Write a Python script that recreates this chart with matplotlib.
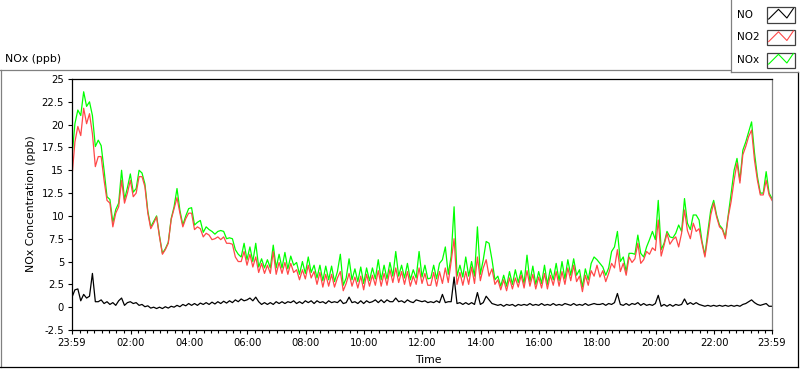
import numpy as np
import matplotlib
matplotlib.use('Agg')
import matplotlib.pyplot as plt
from matplotlib.lines import Line2D
from matplotlib.patches import Rectangle
from matplotlib.ticker import FixedLocator, FormatStrFormatter

plt.rcParams['font.family'] = ['DejaVu Sans']

# one sample every 6 minutes, first sample at 23:59
step_h = 0.1
start_h = -1 / 60

no2 = [
    # 23:59 - 05:41
    14.3, 18.1, 19.8, 18.8, 21.8, 20.1, 21.2, 19.0, 15.4, 16.5,
    16.5, 13.9, 11.7, 11.4, 8.8, 10.3, 11.0, 13.9, 11.4, 12.5,
    13.9, 12.1, 12.5, 14.3, 14.3, 13.2, 10.3, 8.6, 9.2, 9.9,
    7.7, 5.8, 6.3, 7.0, 9.6, 10.8, 12.0, 10.3, 8.8, 9.7,
    10.3, 10.3, 8.5, 8.8, 8.6, 7.7, 8.1, 7.9, 7.4, 7.5,
    7.7, 7.4, 7.7, 7.0, 7.0, 6.9, 5.5, 5.0,
    # 05:47 - 12:11
    5.0, 6.1, 4.6, 5.8, 4.4, 5.5, 3.8, 4.8, 3.7, 4.6,
    3.7, 6.1, 3.6, 4.9, 3.7, 4.9, 3.6, 4.8, 3.8, 4.1,
    3.0, 4.1, 3.1, 4.6, 3.2, 3.9, 2.5, 3.8, 2.2, 3.6,
    2.3, 3.6, 2.2, 3.2, 3.9, 1.8, 2.6, 3.7, 2.3, 3.3,
    2.1, 3.4, 1.9, 3.6, 2.3, 3.5, 2.4, 4.0, 2.3, 3.7,
    2.4, 4.1, 2.7, 4.3, 2.7, 3.9, 2.5, 3.9, 2.3, 3.4,
    2.5, 4.3, 2.6, 3.7, 2.4,
    # 12:17 - 17:59
    2.4, 3.8, 2.3, 3.9, 2.6, 4.3, 2.7, 5.0, 7.5, 2.5,
    3.8, 2.4, 3.9, 2.5, 4.4, 2.6, 5.5, 2.9, 4.3, 5.2,
    3.4, 4.2, 2.5, 3.0, 1.9, 3.0, 1.8, 3.2, 2.0, 3.2,
    2.2, 3.5, 2.1, 4.0, 2.3, 3.6, 2.0, 3.3, 2.1, 3.7,
    2.0, 3.5, 2.4, 3.9, 2.3, 3.9, 2.5, 4.3, 2.9, 4.6,
    2.8, 3.4, 1.7, 3.5, 2.4, 4.0, 3.4, 4.6,
    # 18:05 - 23:59
    3.3, 4.0, 2.8, 3.7, 4.8, 4.3, 6.3, 3.9, 4.8, 3.5,
    5.5, 4.9, 5.3, 7.0, 4.8, 5.2, 6.1, 5.8, 6.5, 6.2,
    9.55, 5.6, 6.8, 8.1, 6.9, 7.4, 7.7, 6.6, 8.1, 10.65,
    8.4, 7.5, 9.2, 8.3, 8.6, 7.0, 5.5, 7.7, 10.1, 11.4,
    9.9, 8.8, 8.5, 7.5, 9.9, 11.6, 13.9, 15.8, 13.6, 16.7,
    17.6, 18.7, 19.4, 16.1, 13.9, 12.3, 12.3, 13.9, 12.3, 11.7,
]

nox = [
    16.5, 20.1, 21.6, 21.0, 23.6, 22.0, 22.5, 21.0, 17.6, 18.3,
    17.7, 15.0, 12.1, 11.8, 9.3, 10.7, 11.4, 15.0, 11.8, 13.1,
    14.6, 12.6, 13.0, 15.0, 14.7, 13.5, 10.5, 8.8, 9.4, 10.0,
    7.8, 5.9, 6.4, 7.1, 9.7, 11.0, 13.0, 10.6, 9.0, 10.0,
    10.8, 10.9, 9.0, 9.3, 9.5, 8.2, 8.8, 8.5, 8.3, 8.0,
    8.3, 8.4, 8.3, 7.5, 7.6, 7.5, 6.3, 5.8,
    5.5, 7.0, 5.2, 6.6, 5.0, 7.0, 4.4, 5.3, 4.3, 5.2,
    4.3, 6.8, 4.3, 5.8, 4.3, 6.0, 4.2, 5.6, 4.6, 4.9,
    3.6, 5.0, 3.7, 5.5, 3.8, 4.6, 3.2, 4.6, 2.9, 4.5,
    3.0, 4.5, 2.8, 3.9, 5.8, 2.4, 3.2, 5.3, 3.0, 4.2,
    2.8, 4.4, 2.6, 4.3, 2.9, 4.3, 3.1, 5.2, 3.0, 4.6,
    3.1, 4.9, 3.4, 6.1, 3.4, 4.6, 3.2, 4.8, 3.0, 4.1,
    3.2, 6.1, 3.3, 4.6, 3.1,
    3.2, 4.6, 3.1, 4.8, 5.2, 6.6, 3.6, 5.6, 11.0, 3.4,
    4.6, 3.3, 5.5, 3.4, 5.0, 3.4, 8.8, 3.6, 5.2, 7.2,
    7.0, 5.2, 3.0, 3.4, 2.3, 3.5, 2.3, 3.9, 2.5, 4.1,
    2.7, 4.0, 2.6, 5.7, 2.8, 4.5, 2.5, 3.9, 2.6, 4.6,
    2.5, 4.2, 3.0, 4.8, 2.9, 5.0, 3.1, 5.2, 3.5, 5.3,
    3.5, 4.1, 2.2, 4.2, 3.0, 4.8, 5.5, 5.2,
    4.8, 4.4, 3.5, 4.3, 6.1, 6.6, 8.3, 5.0, 5.5, 3.9,
    5.9, 5.9, 5.8, 7.9, 5.9, 5.5, 6.6, 7.4, 8.3, 7.4,
    11.7, 6.3, 7.0, 8.3, 7.7, 7.6, 8.1, 9.0, 8.3, 11.9,
    9.2, 8.5, 10.1, 10.1, 9.55, 7.2, 5.7, 8.3, 10.65, 11.7,
    10.1, 9.0, 8.6, 7.7, 10.1, 12.5, 15.0, 16.3, 13.9, 17.2,
    18.1, 19.2, 20.3, 16.9, 14.3, 12.5, 12.5, 14.85, 12.5, 11.9,
]

no = [
    1.1, 1.9, 2.0, 0.7, 1.4, 1.0, 1.2, 3.7, 0.6, 0.6,
    0.8, 0.4, 0.6, 0.3, 0.5, 0.2, 0.7, 1.0, 0.2, 0.5,
    0.6, 0.4, 0.5, 0.2, 0.3, 0.05, 0.15, -0.1, 0.0, -0.15,
    0.0, -0.15, 0.05, -0.1, 0.1, 0.0, 0.2, 0.05, 0.3, 0.15,
    0.4, 0.2, 0.4, 0.2, 0.45, 0.3, 0.5, 0.3, 0.55, 0.35,
    0.6, 0.4, 0.65, 0.45, 0.7, 0.5, 0.8, 0.6,
    0.9, 0.7, 0.8, 1.0, 0.7, 1.1, 0.6, 0.3, 0.5, 0.3,
    0.5, 0.3, 0.6, 0.4, 0.6, 0.4, 0.6, 0.5, 0.7, 0.4,
    0.6, 0.4, 0.7, 0.5, 0.7, 0.4, 0.7, 0.5, 0.6, 0.4,
    0.7, 0.5, 0.6, 0.5, 0.8, 0.4, 0.5, 1.1, 0.5, 0.6,
    0.4, 0.7, 0.4, 0.7, 0.5, 0.6, 0.8, 0.5, 0.8, 0.5,
    0.8, 0.6, 0.6, 1.0, 0.6, 0.7, 0.5, 0.8, 0.6, 0.5,
    0.8, 0.7, 0.6, 0.7, 0.5,
    0.6, 0.5, 0.7, 0.5, 1.4, 0.5, 0.6, 0.6, 3.3, 0.4,
    0.5, 0.3, 0.5, 0.3, 0.5, 0.3, 1.6, 0.3, 0.5, 1.2,
    0.8, 0.4, 0.3, 0.2, 0.3, 0.1, 0.3, 0.2, 0.3, 0.1,
    0.3, 0.2, 0.3, 0.2, 0.4, 0.2, 0.3, 0.2, 0.4, 0.2,
    0.3, 0.2, 0.4, 0.2, 0.3, 0.2, 0.4, 0.3, 0.2, 0.4,
    0.2, 0.3, 0.2, 0.4, 0.2, 0.3, 0.4, 0.3,
    0.3, 0.4, 0.2, 0.4, 0.3, 0.5, 1.5, 0.3, 0.2, 0.4,
    0.2, 0.4, 0.3, 0.5, 0.2, 0.4, 0.2, 0.3, 0.2, 0.4,
    1.3, 0.1, 0.3, 0.1, 0.3, 0.1, 0.3, 0.2, 0.3, 0.9,
    0.3, 0.5, 0.3, 0.5, 0.3, 0.2, 0.1, 0.2, 0.1, 0.2,
    0.1, 0.2, 0.1, 0.2, 0.1, 0.2, 0.1, 0.2, 0.1, 0.3,
    0.4, 0.6, 0.8, 0.5, 0.3, 0.2, 0.3, 0.4, 0.1, 0.1,
]

series_names = ['NO', 'NO2', 'NOx']
series_colors = ['black', '#ff4848', '#00ff00']

tick_hours = [start_h, 2, 4, 6, 8, 10, 12, 14, 16, 18, 20, 22, 24 + start_h]
tick_labels = ['23:59', '02:00', '04:00', '06:00', '08:00', '10:00', '12:00',
               '14:00', '16:00', '18:00', '20:00', '22:00', '23:59']

W, H = 800, 369
fig = plt.figure(figsize=(W / 100, H / 100), dpi=100)


def fx(px):
    return px / W


def fy(py):
    return 1 - py / H


ax = fig.add_axes([fx(72), fy(330), fx(772) - fx(72), fy(79) - fy(330)])
t = start_h + step_h * np.arange(len(no2))
ax.plot(t, nox, color=series_colors[2], lw=0.9)
ax.plot(t, no2, color=series_colors[1], lw=0.9)
ax.plot(t, no, color=series_colors[0], lw=0.9)

ax.set_xlim(start_h, 24 + start_h)
ax.set_ylim(-2.5, 25)
ax.set_yticks(np.arange(-2.5, 25.1, 2.5))
ax.yaxis.set_major_formatter(FormatStrFormatter('%g'))
ax.set_xticks(tick_hours)
ax.set_xticklabels(tick_labels)
minor = [m for m in np.arange(0.25, 24, 0.25) if m % 2 != 0]
ax.xaxis.set_minor_locator(FixedLocator(minor))
ax.tick_params(axis='both', which='major', direction='out', length=3.2,
               width=0.8, labelsize=7.2, pad=2.5, colors='black')
ax.tick_params(axis='x', which='minor', direction='out', length=2.2, width=0.8)
for s in ['top', 'left', 'bottom']:
    ax.spines[s].set_linewidth(0.9)
    ax.spines[s].set_color('black')
ax.spines['right'].set_color('#808080')
ax.spines['right'].set_linewidth(0.9)

fig.text(fx(31), fy(204), 'NOx Concentration (ppb)', rotation=90,
         ha='center', va='center', fontsize=7.8)
fig.text(fx(428), fy(360), 'Time', ha='center', va='center', fontsize=7.8)
fig.text(fx(5), fy(59), 'NOx (ppb)', ha='left', va='center', fontsize=7.8)

# panel border
fig.add_artist(Line2D([fx(0), fx(730)], [fy(69.5), fy(69.5)], color='#808080', lw=0.9))
fig.add_artist(Line2D([fx(0.5), fx(0.5)], [fy(69.5), fy(367)], color='#808080', lw=0.9))
fig.add_artist(Line2D([fx(0), fx(797.5)], [fy(366.5), fy(366.5)], color='black', lw=0.9))
fig.add_artist(Line2D([fx(797.5), fx(797.5)], [fy(71.5), fy(367)], color='black', lw=0.9))

# legend box
fig.add_artist(Line2D([fx(730.5), fx(730.5)], [fy(0), fy(71.5)], color='#808080', lw=0.9))
fig.add_artist(Line2D([fx(730.5), fx(797.5)], [fy(71.5), fy(71.5)], color='#808080', lw=0.9))
zig_x = [0.06, 0.41, 0.71, 0.94]
zig_y = [0.23, 0.88, 0.30, 0.93]
for i, (name, col) in enumerate(zip(series_names, series_colors)):
    cy = 15 + i * 22.5
    fig.text(fx(737), fy(cy), name, ha='left', va='center', fontsize=7.5)
    bx0, bx1 = 767, 795
    by0, by1 = cy + 7.5, cy - 7.5
    fig.add_artist(Rectangle((fx(bx0), fy(by0)), fx(bx1) - fx(bx0), fy(by1) - fy(by0),
                             fill=False, edgecolor='#404040', lw=0.9))
    fig.add_artist(Line2D([fx(bx0 + (bx1 - bx0) * zx) for zx in zig_x],
                          [fy(by0 + (by1 - by0) * zy) for zy in zig_y],
                          color=col, lw=0.8))

fig.savefig('out.png', dpi=100)
